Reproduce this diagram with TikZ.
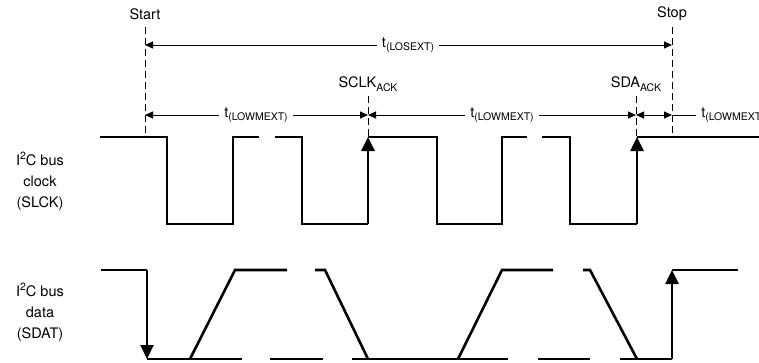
\documentclass[tikz,border=0pt]{standalone}
\usepackage{fontspec}
\setmainfont{TeX Gyre Heros}
\usetikzlibrary{arrows.meta}

\newcommand{\lowidx}[1]{\raisebox{-0.45ex}{\fontsize{10.5}{12}\selectfont #1}}
\newcommand{\highidx}[1]{\raisebox{0.8ex}{\fontsize{10.5}{12}\selectfont #1}}

\tikzset{
  sig/.style={line width=2.6pt},
  sigarrow/.style={-{Triangle[length=14pt,width=13pt]}},
  dim/.style={line width=0.9pt},
  dimtip/.style={-{Triangle[length=8pt,width=7pt]}},
  guide/.style={line width=0.9pt, dash pattern=on 7pt off 4pt},
  lbl/.style={font=\fontsize{14.5}{21}\selectfont, inner sep=1pt},
  dimlbl/.style={lbl, fill=white, inner xsep=5pt},
}

\begin{document}
\begin{tikzpicture}[x=1pt, y=-1pt]
\useasboundingbox (0,0) rectangle (759,362);
\clip (0,0) rectangle (759,362);

\node[lbl] (start) at (145,14) {Start};
\node[lbl] (stop) at (672,14) {Stop};
\node[lbl] (sclkack) at (368,84) {SCLK\lowidx{ACK}};
\node[lbl] (sdaack) at (636,84) {SDA\lowidx{ACK}};
\node[lbl, align=center] (clklbl) at (40,181) {I\highidx{2}C bus\\clock\\(SLCK)};
\node[lbl, align=center] (datlbl) at (40,312) {I\highidx{2}C bus\\data\\(SDAT)};

\coordinate (startT) at (145,27);
\coordinate (startA) at (145,45);
\coordinate (startB) at (145,115);
\coordinate (startC) at (145,137);
\coordinate (stopT) at (672,27);
\coordinate (stopA) at (672,45);
\coordinate (stopB) at (672,115);
\coordinate (stopC) at (672,137);
\coordinate (sclkT) at (368,96);
\coordinate (sclkB) at (368,115);
\coordinate (sclkC) at (368,137);
\coordinate (sdaT) at (636,96);
\coordinate (sdaB) at (636,115);
\coordinate (sdaC) at (636,137);

\draw[guide] (startT) -- (startC);
\draw[guide] (stopT) -- (stopC);
\draw[guide] (sclkT) -- (sclkC);
\draw[guide] (sdaT) -- (sdaC);

\node[dimlbl] (losext) at (408,45) {t\lowidx{(LOSEXT)}};
\node[dimlbl] (lowm1) at (256,115) {t\lowidx{(LOWMEXT)}};
\node[dimlbl] (lowm2) at (502,115) {t\lowidx{(LOWMEXT)}};
\node[dimlbl] (lowm3) at (733,115) {t\lowidx{(LOWMEXT)}};

\path
    (losext) edge[dim, dimtip] (startA)
    (losext) edge[dim, dimtip] (stopA)
    (lowm1) edge[dim, dimtip] (startB)
    (lowm1) edge[dim, dimtip] (sclkB)
    (lowm2) edge[dim, dimtip] (sclkB)
    (lowm2) edge[dim, dimtip] (sdaB)
    (sdaB) edge[dim, {Triangle[length=8pt,width=7pt]}-{Triangle[length=8pt,width=7pt]}] (stopB)
    (lowm3) edge[dim] (stopB);

% clock
\draw[sig] (100,137) -- (167,137) -- (167,224) -- (233,224) -- (233,137) -- (259,137);
\draw[sig] (275,137) -- (302,137) -- (302,224) -- (368,224);
\draw[sig, sigarrow] (368,224) -- (sclkC);
\draw[sig] (sclkC) -- (437,137) -- (437,224) -- (502,224) -- (502,137) -- (527,137);
\draw[sig] (542,137) -- (570,137) -- (570,224) -- (637,224);
\draw[sig, sigarrow] (637,224) -- (637,137);
\draw[sig] (637,137) -- (770,137);

% data
\draw[sig] (101,270) -- (147,270);
\draw[line width=2pt, sigarrow] (147,270) -- (147,359);
\draw[sig] (147,359) -- (242,359);
\draw[sig] (190,359) -- (235,270) -- (287,270);
\draw[sig] (270,359) -- (323,359);
\draw[sig] (315,270) -- (325,270) -- (368,359);
\draw[sig] (352,359) -- (508,359);
\draw[sig] (458,359) -- (502,270) -- (553,270);
\draw[sig] (538,359) -- (590,359);
\draw[sig] (583,270) -- (590,270) -- (637,359);
\draw[sig] (620,359) -- (672,359);
\draw[sig, sigarrow] (672,359) -- (672,270);
\draw[sig] (672,270) -- (738,270);
\end{tikzpicture}
\end{document}
